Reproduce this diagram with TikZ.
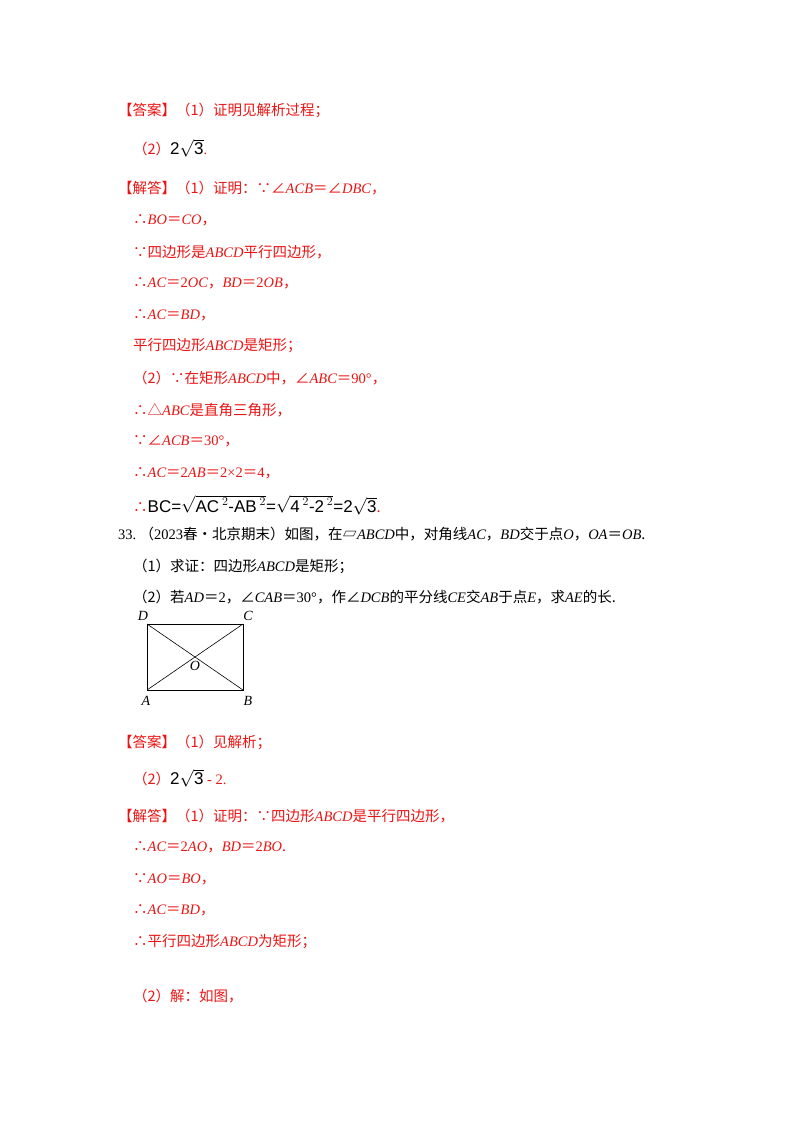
\documentclass[tikz,border=0pt]{standalone}
\usepackage{amsmath}
\usepackage{fontspec}
\setmainfont{Noto Sans CJK SC}
\newfontfamily\lat{Liberation Serif}
\newfontfamily\lsans{Liberation Sans}
\newcommand{\mi}[1]{{\lat\itshape #1}}
\newcommand{\up}[1]{{\lat #1}}
\newcommand{\formula}[1]{{\fontsize{17}{19}\selectfont #1}}
\definecolor{ansred}{RGB}{235,20,20}
\begin{document}
\begin{tikzpicture}[x=1pt,y=-1pt]
  \tikzstyle{line}=[anchor=west,inner sep=0pt,font=\fontsize{14.5}{17}\selectfont]
  \tikzstyle{red}=[line,text=ansred]
  \tikzstyle{blk}=[line,text=black]
  \tikzstyle{vertex}=[font=\lat\itshape\fontsize{14}{16}\selectfont]
  \useasboundingbox[fill=white] (0,0) rectangle (800,1132);

  % answer of 32
  \node[red] (a1) at (118,110) {【答案】（1）证明见解析过程；};
  \node[red] (a2) at (133,148) {（2）\formula{\textcolor{black}{\lsans 2$\sqrt{\text{\lsans 3}}$}}\up{.}};
  \node[red] (s1) at (118,188) {【解答】（1）证明：∵∠\mi{ACB}＝∠\mi{DBC}，};
  \node[red] (s2) at (133,220) {∴\mi{BO}＝\mi{CO}，};
  \node[red] (s3) at (133,252) {∵四边形是\mi{ABCD}平行四边形，};
  \node[red] (s4) at (133,283) {∴\mi{AC}＝\up{2}\mi{OC}，\mi{BD}＝\up{2}\mi{OB}，};
  \node[red] (s5) at (133,315) {∴\mi{AC}＝\mi{BD}，};
  \node[red] (s6) at (133,346) {平行四边形\mi{ABCD}是矩形；};
  \node[red] (s7) at (133,378) {（2）∵在矩形\mi{ABCD}中，∠\mi{ABC}＝\up{90°}，};
  \node[red] (s8) at (133,410) {∴△\mi{ABC}是直角三角形，};
  \node[red] (s9) at (133,441) {∵∠\mi{ACB}＝\up{30°}，};
  \node[red] (s10) at (133,473) {∴\mi{AC}＝\up{2}\mi{AB}＝\up{2×2}＝\up{4}，};
  \node[red] (s11) at (133,505) {∴\formula{\textcolor{black}{\lsans BC=$\sqrt{\text{\lsans AC\,}^{2}\text{\lsans -AB\,}^{2}}$=$\sqrt{\text{\lsans 4\,}^{2}\text{\lsans -2\,}^{2}}$=2$\sqrt{\text{\lsans 3}}$}}.};

  % problem 33
  \node[blk] (q1) at (118,534) {\up{33.}\ （\up{2023}春•北京期末）如图，在▱\mi{ABCD}中，对角线\mi{AC}，\mi{BD}交于点\mi{O}，\mi{OA}＝\mi{OB}.};
  \node[blk] (q2) at (133,566) {（1）求证：四边形\mi{ABCD}是矩形；};
  \node[blk] (q3) at (133,597) {（2）若\mi{AD}＝\up{2}，∠\mi{CAB}＝\up{30°}，作∠\mi{DCB}的平分线\mi{CE}交\mi{AB}于点\mi{E}，求\mi{AE}的长.};

  % figure
  \coordinate (A) at (147,690);
  \coordinate (B) at (243,690);
  \coordinate (C) at (243,624);
  \coordinate (D) at (147,624);
  \draw[thick] (A) -- (B) -- (C) -- (D) -- cycle;
  \draw[semithick] (A) -- (C) (B) -- (D);
  \node[vertex] (lA) at (146,701) {A};
  \node[vertex] (lB) at (248,701) {B};
  \node[vertex] (lC) at (248,616) {C};
  \node[vertex] (lD) at (143,616) {D};
  \node[vertex] (lO) at (195,666) {O};

  % answer of 33
  \node[red] (b1) at (118,742) {【答案】（1）见解析；};
  \node[red] (b2) at (133,778) {（2）\formula{\textcolor{black}{\lsans 2$\sqrt{\text{\lsans 3}}$}}\up{ - 2.}};
  \node[red] (t1) at (118,816) {【解答】（1）证明：∵四边形\mi{ABCD}是平行四边形，};
  \node[red] (t2) at (133,847) {∴\mi{AC}＝\up{2}\mi{AO}，\mi{BD}＝\up{2}\mi{BO}.};
  \node[red] (t3) at (133,879) {∵\mi{AO}＝\mi{BO}，};
  \node[red] (t4) at (133,910) {∴\mi{AC}＝\mi{BD}，};
  \node[red] (t5) at (133,942) {∴平行四边形\mi{ABCD}为矩形；};
  \node[red] (t6) at (133,996) {（2）解：如图，};
\end{tikzpicture}
\end{document}
